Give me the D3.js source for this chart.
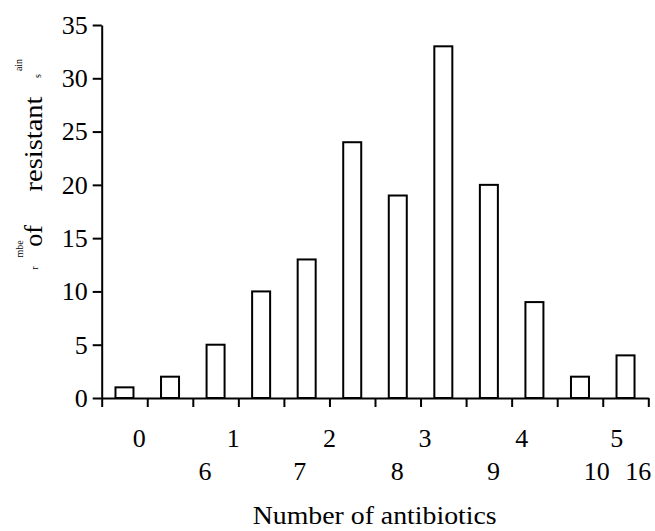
<!DOCTYPE html>
<html>
<head>
<meta charset="utf-8">
<script src="https://cdn.jsdelivr.net/npm/d3@7"></script>
<style>
  body { margin: 0; background: #fff; }
  text { font-family: "Liberation Serif", "Times New Roman", serif; fill: #000; }
</style>
</head>
<body>
<script>
// data
var categories = ["0", "1", "2", "3", "4", "5", "6", "7", "8", "9", "10", "16"];
var counts = [1, 2, 5, 10, 13, 24, 19, 33, 20, 9, 2, 4];
var yTicks = [0, 5, 10, 15, 20, 25, 30, 35];
var labelsTop = ["0", "1", "2", "3", "4", "5"];
var labelsBottom = ["6", "7", "8", "9", "10", "16"];
var xTitle = "Number of antibiotics";

// where the (shuffled) x labels sit, in band units
var topPos = [0.825, 2.89, 5.0, 7.1, 9.22, 11.31];
var bottomPos = [2.27, 4.35, 6.49, 8.6, 10.87, 11.78];

var width = 655, height = 531;
var plotL = 101.7, plotR = 648.3, plotT = 25, plotB = 398;

var svg = d3.select("body").append("svg")
    .attr("width", width)
    .attr("height", height);

var x = d3.scaleLinear().domain([0, categories.length]).range([plotL, plotR]);
var y = d3.scaleLinear().domain([0, 35]).range([plotB, plotT]);
var barW = 18;

// bars
svg.selectAll("rect.bar")
    .data(counts)
    .enter()
    .append("rect")
    .attr("class", "bar")
    .attr("x", function(d, i) { return x(i + 0.5) - barW / 2; })
    .attr("y", function(d) { return y(d); })
    .attr("width", barW)
    .attr("height", function(d) { return y(0) - y(d); })
    .attr("fill", "#fff")
    .attr("stroke", "#000")
    .attr("stroke-width", 2);

// y axis
var yAxis = svg.append("g")
    .attr("transform", "translate(" + plotL + ",0)")
    .call(d3.axisLeft(y).tickValues(yTicks).tickSize(9).tickSizeOuter(0).tickPadding(5));
yAxis.attr("font-family", null).attr("font-size", null);
yAxis.selectAll("text").style("font-size", "26px");

// x axis, ticks on the band edges
var xAxis = svg.append("g")
    .attr("transform", "translate(0," + plotB + ")")
    .call(d3.axisBottom(x).tickValues(d3.range(categories.length + 1)).tickFormat("").tickSize(9).tickSizeOuter(0));

svg.selectAll(".domain, .tick line")
    .attr("stroke", "#000")
    .attr("stroke-width", 2);

// x labels in two rows
svg.selectAll("text.top")
    .data(labelsTop)
    .enter()
    .append("text")
    .attr("class", "top")
    .attr("x", function(d, i) { return x(topPos[i]); })
    .attr("y", 447)
    .attr("text-anchor", "middle")
    .style("font-size", "26px")
    .text(function(d) { return d; });

svg.selectAll("text.bottom")
    .data(labelsBottom)
    .enter()
    .append("text")
    .attr("class", "bottom")
    .attr("x", function(d, i) { return x(bottomPos[i]); })
    .attr("y", 480)
    .attr("text-anchor", "middle")
    .style("font-size", "26px")
    .text(function(d) { return d; });

svg.append("text")
    .attr("x", 374.7)
    .attr("y", 524)
    .attr("text-anchor", "middle")
    .attr("textLength", 244)
    .attr("lengthAdjust", "spacingAndGlyphs")
    .style("font-size", "25px")
    .text(xTitle);

// y label, broken into pieces like the original
var yLabel = [
    { t: "ain", x: 22, y: 65, size: 10 },
    { t: "s", x: 41, y: 76, size: 10 },
    { t: "resistant", x: 42, y: 144, size: 26, len: 95 },
    { t: "of", x: 42, y: 236, size: 26 },
    { t: "mbe", x: 23, y: 249, size: 10 },
    { t: "r", x: 38, y: 268, size: 10 }
];

svg.selectAll("text.ylab")
    .data(yLabel)
    .enter()
    .append("text")
    .attr("class", "ylab")
    .attr("transform", function(d) { return "translate(" + d.x + "," + d.y + ") rotate(-90)"; })
    .attr("text-anchor", "middle")
    .attr("textLength", function(d) { return d.len || null; })
    .attr("lengthAdjust", "spacingAndGlyphs")
    .style("font-size", function(d) { return d.size + "px"; })
    .text(function(d) { return d.t; });
</script>
</body>
</html>
